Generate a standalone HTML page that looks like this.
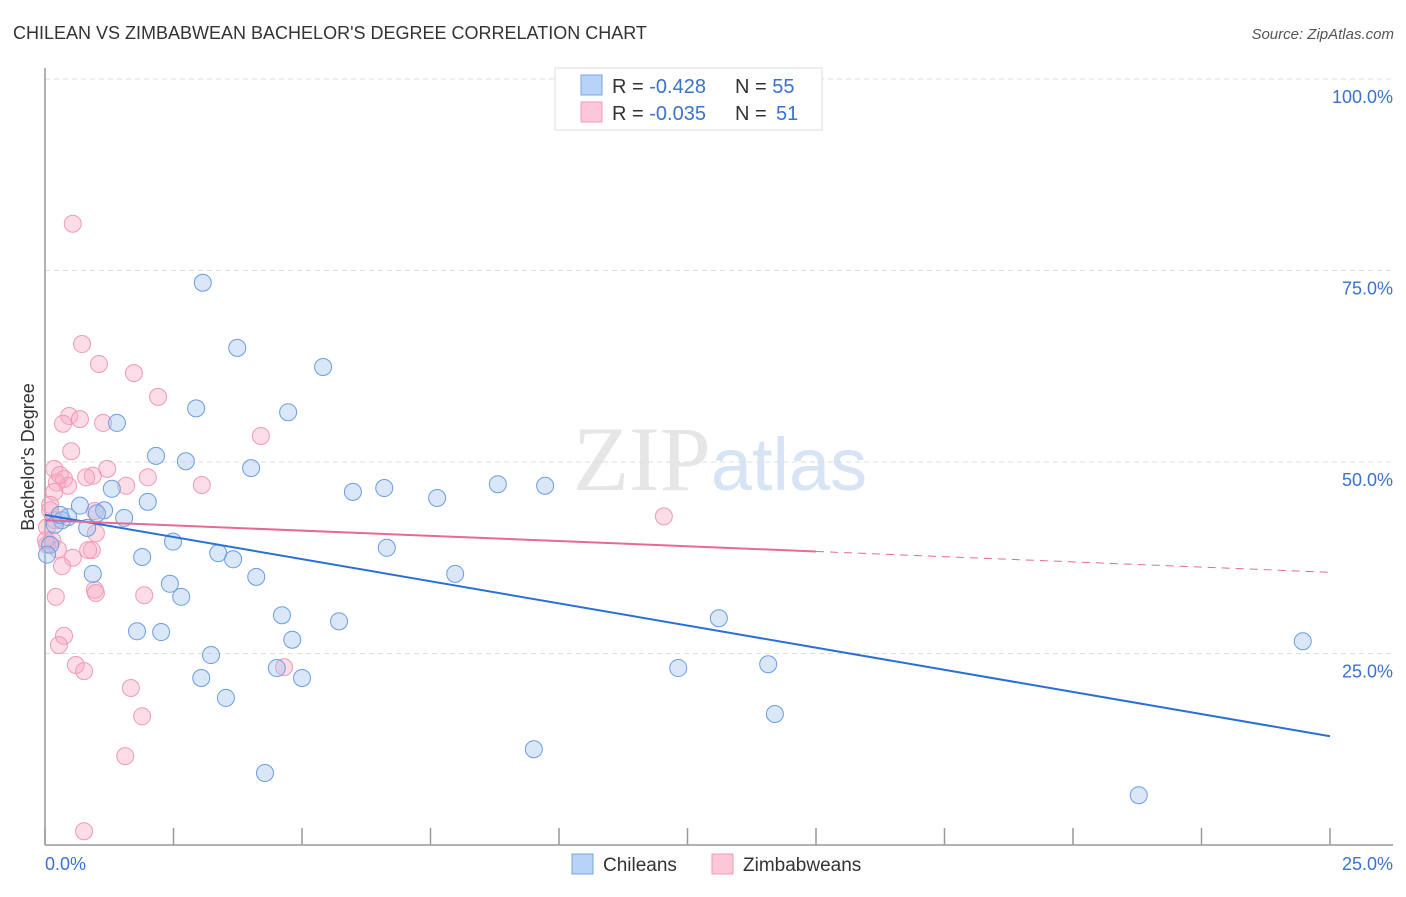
<!DOCTYPE html>
<html><head><meta charset="utf-8"><style>
body{margin:0;background:#fff;font-family:"Liberation Sans",sans-serif}
svg text{font-family:"Liberation Sans",sans-serif}
</style></head><body>
<svg id="chart" width="1406" height="892" viewBox="0 0 1406 892" xmlns="http://www.w3.org/2000/svg">
<text x="13" y="39" font-size="18" fill="#333">CHILEAN VS ZIMBABWEAN BACHELOR'S DEGREE CORRELATION CHART</text>
<text x="1394" y="39" font-size="15" fill="#555" text-anchor="end" font-style="italic">Source: ZipAtlas.com</text>
<text x="720" y="490" font-size="92" text-anchor="middle" fill="#e6e6e6"><tspan font-family="Liberation Serif">ZIP</tspan><tspan fill="#d6e4f5" font-size="74">atlas</tspan></text>
<g id="grid"></g>
<g id="axes"></g>
<g id="pts"></g>
<g id="lines"></g>
<text transform="translate(34,457) rotate(-90)" font-size="18" fill="#333" text-anchor="middle">Bachelor's Degree</text>
<g>
<rect x="555" y="68" width="267" height="62" fill="#fff" stroke="#ddd"/>
<rect x="581" y="75" width="21" height="20" fill="#b8d3f5" stroke="#7aa7e0"/>
<rect x="581" y="102" width="21" height="20" fill="#fcc8d8" stroke="#f09ab4"/>
<text x="612" y="93" font-size="20" fill="#333">R = <tspan fill="#3a72cc">-0.428</tspan><tspan x="735">N = </tspan><tspan fill="#3a72cc">55</tspan></text>
<text x="612" y="120" font-size="20" fill="#333">R = <tspan fill="#3a72cc">-0.035</tspan><tspan x="735">N = </tspan><tspan fill="#3a72cc" x="776">51</tspan></text>
</g>
<g>
<rect x="572" y="854" width="21" height="20" fill="#b8d3f5" stroke="#7aa7e0"/>
<text x="603" y="871" font-size="19" fill="#333">Chileans</text>
<rect x="712" y="854" width="21" height="20" fill="#fcc8d8" stroke="#f09ab4"/>
<text x="743" y="871" font-size="19" fill="#333">Zimbabweans</text>
</g>
</svg>
<script>
const blueX=[3.07,3.74,5.41,2.94,4.73,1.40,2.16,2.74,4.01,5.99,6.60,7.63,8.81,9.73,1.30,2.00,0.68,1.15,1.54,1.01,0.45,0.33,0.19,0.82,0.10,0.04,2.49,3.37,3.66,1.89,6.65,7.98,0.93,4.11,2.43,2.65,4.61,5.72,13.11,1.79,2.26,4.81,24.47,3.23,12.32,14.07,4.51,3.04,5.00,3.52,14.20,9.51,4.28,21.28,0.29];
const blueY=[73.4,64.9,62.4,57.0,56.5,55.1,50.8,50.1,49.2,46.1,46.6,45.3,47.1,46.9,46.5,44.8,44.3,43.7,42.7,43.3,42.8,42.4,41.8,41.4,39.2,37.9,39.6,38.1,37.3,37.6,38.8,35.4,35.4,35.0,34.1,32.4,30.0,29.2,29.6,27.9,27.8,26.8,26.6,24.8,23.1,23.6,23.1,21.8,21.8,19.2,17.1,12.5,9.4,6.5,43.1];
const pinkX=[0.54,0.72,1.05,1.73,2.20,0.47,0.68,0.35,1.13,4.20,0.51,1.21,0.18,0.93,2.00,0.37,0.80,0.23,3.05,1.58,0.45,0.18,0.10,0.97,12.04,0.19,0.04,0.14,0.99,0.04,0.25,0.91,0.54,0.33,1.93,0.97,0.99,0.21,0.37,0.27,4.65,0.60,0.76,1.67,1.89,1.56,0.76,0.02,0.10,0.29,0.84];
const pinkY=[81.1,65.4,62.8,61.6,58.5,56.0,55.6,55.0,55.1,53.4,51.4,49.1,49.1,48.2,48.0,47.8,48.0,47.3,47.0,46.9,46.9,46.1,44.4,43.6,42.9,42.4,41.5,39.8,40.7,39.2,38.6,38.5,37.5,36.4,32.6,33.3,32.9,32.4,27.3,26.1,23.2,23.5,22.7,20.5,16.8,11.6,1.8,39.8,43.7,48.3,38.5];
const blueTrend=[43.1,14.2];
const pinkTrend=[42.4,35.6];
const pinkSolidEnd=15;
const yTicks=[25,50,75,100];
const yTickLabels=["25.0%","50.0%","75.0%","100.0%"];
const xTicks=[0,2.5,5,7.5,10,12.5,15,17.5,20,22.5,25];
const NS="http://www.w3.org/2000/svg";
const sx=v=>45+v/25*1285, sy=v=>845-v/100*766;
function mk(p,t,a){const e=document.createElementNS(NS,t);for(const k in a)e.setAttribute(k,a[k]);p.appendChild(e);return e;}
const grid=document.getElementById('grid'),axes=document.getElementById('axes'),pts=document.getElementById('pts'),lines=document.getElementById('lines');
yTicks.forEach((t,i)=>{
 const l=mk(grid,'line',{x1:45,x2:1393,y1:sy(t),y2:sy(t),stroke:'#ddd','stroke-dasharray':'5,4'});
 
 
 const tx=mk(axes,'text',{x:1393,y:sy(t)+24,'font-size':18,fill:'#3a72cc','text-anchor':'end'});
 tx.textContent=yTickLabels[i];
 
 
});
mk(axes,'line',{x1:45,x2:45,y1:68,y2:845,stroke:'#999','stroke-width':1.5});
mk(axes,'line',{x1:45,x2:1393,y1:845,y2:845,stroke:'#999','stroke-width':1.5});
xTicks.forEach(t=>{
 const l=mk(axes,'line',{x1:sx(t),x2:sx(t),y1:828,y2:845,stroke:'#999','stroke-width':1.5});
 
 
});
const x0=mk(axes,'text',{x:45,y:870,'font-size':18,fill:'#3a72cc'});x0.textContent='0.0%';


const x1=mk(axes,'text',{x:1393,y:870,'font-size':18,fill:'#3a72cc','text-anchor':'end'});x1.textContent='25.0%';


pinkX.forEach((v,i)=>{
 const c=mk(pts,'circle',{cx:sx(v),cy:sy(pinkY[i]),r:8.5,fill:'rgba(248,170,195,0.4)',stroke:'#f09ab4','stroke-width':1});
 
 
});
blueX.forEach((v,i)=>{
 const c=mk(pts,'circle',{cx:sx(v),cy:sy(blueY[i]),r:8.5,fill:'rgba(160,195,240,0.4)',stroke:'#6a9de0','stroke-width':1});
 
 
});
const bl=mk(lines,'line',{x1:sx(0),y1:sy(blueTrend[0]),x2:sx(25),y2:sy(blueTrend[1]),stroke:'#2a6fd6','stroke-width':2});


const pm=pinkTrend[0]+(pinkTrend[1]-pinkTrend[0])*pinkSolidEnd/25;
const pl=mk(lines,'line',{x1:sx(0),y1:sy(pinkTrend[0]),x2:sx(pinkSolidEnd),y2:sy(pm),stroke:'#e86a94','stroke-width':2});


const pd=mk(lines,'line',{x1:sx(pinkSolidEnd),y1:sy(pm),x2:sx(25),y2:sy(pinkTrend[1]),stroke:'#e86a94','stroke-width':1,'stroke-dasharray':'8,6'});


</script>
</body></html>
